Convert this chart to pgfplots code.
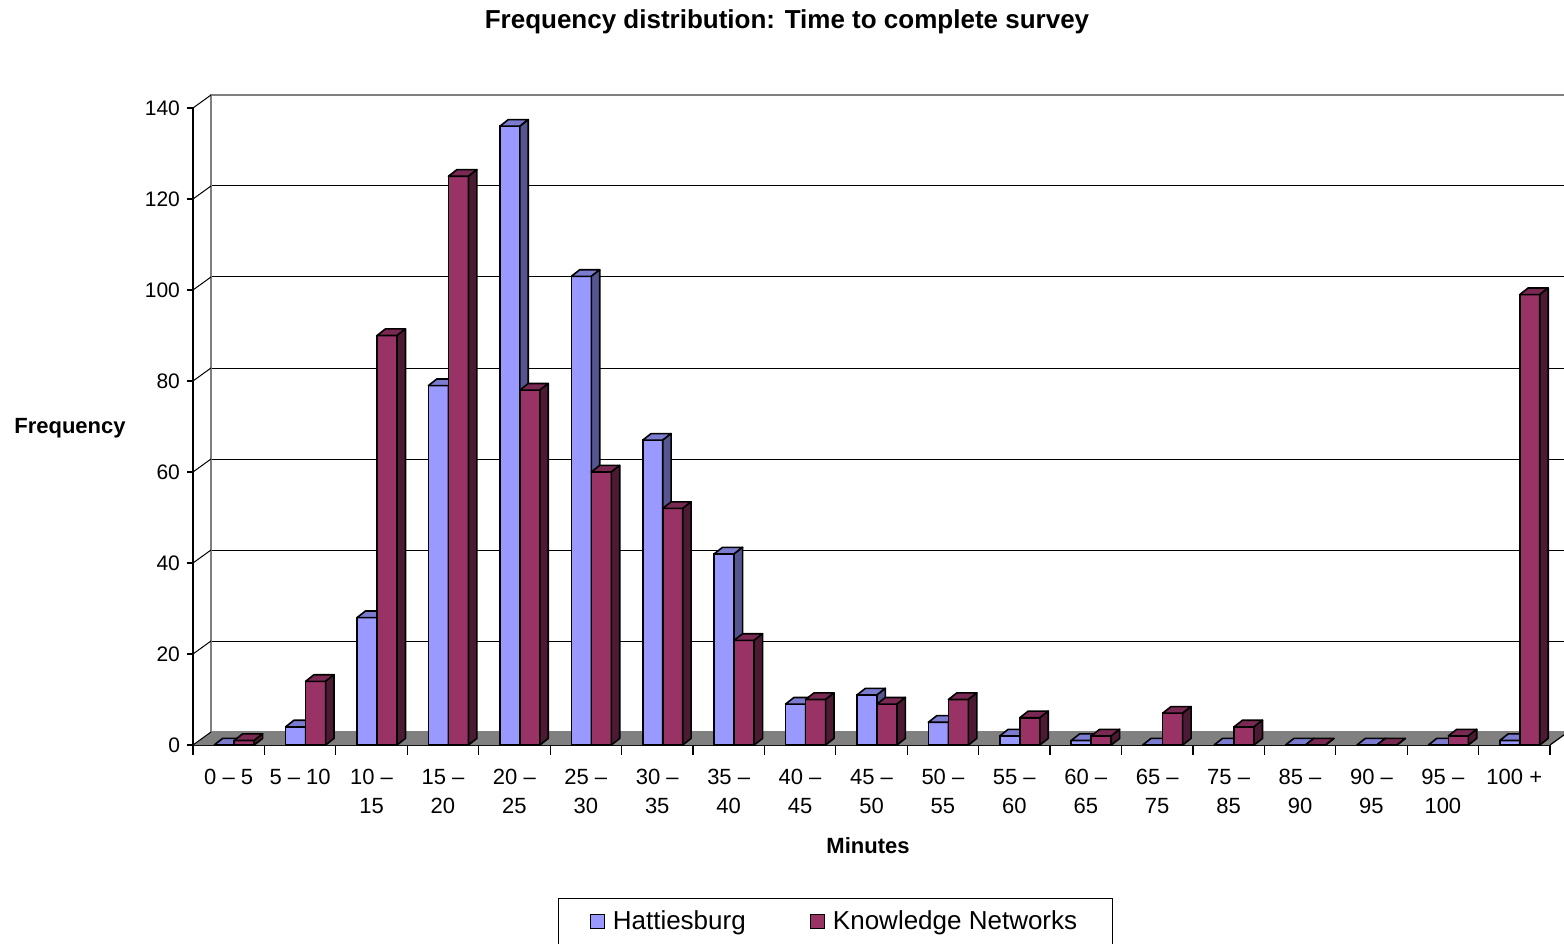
\documentclass[border=0pt]{standalone}
\usepackage{pgfplots}
\pgfplotsset{compat=1.18}
\usepackage{pgfplotstable}
\usepackage{fontspec}
\setmainfont{Liberation Sans}

\definecolor{hb}{HTML}{9999FF}
\definecolor{hbs}{HTML}{55558F}
\definecolor{hbt}{HTML}{7B7BCF}
\definecolor{kn}{HTML}{993366}
\definecolor{kns}{HTML}{4D1A33}
\definecolor{knt}{HTML}{7A2952}
\definecolor{floorgray}{HTML}{808080}

\pgfplotstableread{
x h k
0 0 1
1 4 14
2 28 90
3 79 125
4 136 78
5 103 60
6 67 52
7 42 23
8 9 10
9 11 9
10 5 10
11 2 6
12 1 2
13 0 7
14 0 4
15 0 0
16 0 0
17 0 2
18 1 99
}\datatable

\pgfplotsset{
  bar3d/.style n args={4}{%
    only marks, forget plot, scatter, mark=*, mark size=0pt,
    mark options={draw=none, fill=none},
    visualization depends on={\thisrow{#1} \as \hval},
    scatter/@pre marker code/.code={%
      \pgfmathsetmacro{\hh}{\hval*2.275}%
      \filldraw[draw=black, fill=#4, line width=0.8pt, line join=round]
        ({#2-5pt},0pt) -- ++(4.2pt,3.3pt) -- ++(10pt,0pt) -- ++(-4.2pt,-3.3pt) -- cycle;
      \filldraw[draw=black, fill=#3, line width=0.8pt, line join=round]
        ({#2+5pt},0pt) -- ++(4.2pt,3.3pt) -- ++(0pt,-\hh pt) -- ++(-4.2pt,-3.3pt) -- cycle;
    },
    scatter/@post marker code/.code={},
  },
  sqlegend/.style={legend image code/.code={%
      \draw[##1, draw=black, line width=0.6pt] (0pt,-3.5pt) rectangle (7pt,3.5pt);}},
}

\begin{document}
\begin{tikzpicture}
\useasboundingbox (-96.5pt,-99pt) rectangle (685.5pt,372.5pt);

% back wall
\begin{axis}[
  at={(9pt,6.5pt)}, anchor=south west,
  scale only axis, width=678.5pt, height=318.5pt,
  xmin=-0.5, xmax=18.5, ymin=0, ymax=140,
  xtick=\empty, ytick={0,20,...,140}, yticklabels={},
  major tick length=0pt,
  ymajorgrids, major grid style={black, line width=0.5pt},
  axis line style={draw=floorgray, line width=1.3pt},
]
\end{axis}

% front axis with bars
\begin{axis}[
  at={(0pt,0pt)}, anchor=south west,
  scale only axis, width=678.5pt, height=318.5pt,
  xmin=-0.5, xmax=18.5, ymin=0, ymax=140,
  clip=false, clip mode=individual, clip marker paths=true,
  axis x line*=bottom, axis y line*=left,
  axis line style={black, line width=0.7pt},
  ytick={0,20,...,140},
  tick align=outside, major tick length=3pt,
  minor tick length=5pt,
  xtick={0,...,18},
  minor xtick={-0.5,0.5,...,18.5},
  every major x tick/.append style={draw=none},
  every minor x tick/.append style={black, line width=0.6pt},
  every major y tick/.append style={black, line width=0.6pt},
  xticklabels={0 – 5, 5 – 10, {10 –\\15}, {15 –\\20}, {20 –\\25}, {25 –\\30}, {30 –\\35}, {35 –\\40}, {40 –\\45}, {45 –\\50}, {50 –\\55}, {55 –\\60}, {60 –\\65}, {65 –\\75}, {75 –\\85}, {85 –\\90}, {90 –\\95}, {95 –\\100}, 100 +},
  xticklabel style={align=center, anchor=north, yshift=-5.5pt, font=\fontsize{11}{14.5}\selectfont},
  yticklabel style={font=\fontsize{10.5}{12}\selectfont},
  /pgf/number format/assume math mode=true,
  legend entries={Hattiesburg, Knowledge Networks},
  legend columns=2,
  legend style={at={(rel axis cs:0.269,-0.2402)}, anchor=north west,
    draw=black, line width=0.6pt, font=\fontsize{13}{15}\selectfont,
    inner xsep=15.5pt, inner ysep=4pt,
    /tikz/every odd column/.append style={column sep=2pt},
    /tikz/every even column/.append style={column sep=30pt}},
]
% floor
\fill[floorgray] (rel axis cs:0,0) -- (rel axis cs:1,0) -- ++(9pt,6.5pt) -- ([shift={(9pt,6.5pt)}]rel axis cs:0,0) -- cycle;
\draw[black, line width=0.6pt] (rel axis cs:1,0) -- ++(9pt,6.5pt);
\pgfplotsinvokeforeach{0,20,40,60,80,100,120,140}{
  \draw[black, line width=0.5pt] (axis cs:-0.5,#1) -- ++(9pt,6.5pt);
}
\addplot[ybar, bar width=10pt, bar shift=-2.25pt, fill=hb, draw=black, line width=0.8pt, sqlegend] table[x=x, y=h] {\datatable};
\addplot[bar3d={h}{-2.25pt}{hbs}{hbt}] table[x=x, y=h] {\datatable};
\addplot[ybar, bar width=10pt, bar shift=7.75pt, fill=kn, draw=black, line width=0.8pt, sqlegend] table[x=x, y=k] {\datatable};
\addplot[bar3d={k}{7.75pt}{kns}{knt}] table[x=x, y=k] {\datatable};
\end{axis}

\node[font=\bfseries\fontsize{13}{15}\selectfont] at (297pt,361.5pt) {Frequency distribution: Time to complete survey};
\node[font=\bfseries\fontsize{11}{13}\selectfont] at (-61.5pt,158.5pt) {Frequency};
\node[font=\bfseries\fontsize{11}{13}\selectfont] at (337.5pt,-50.5pt) {Minutes};
\end{tikzpicture}
\end{document}
